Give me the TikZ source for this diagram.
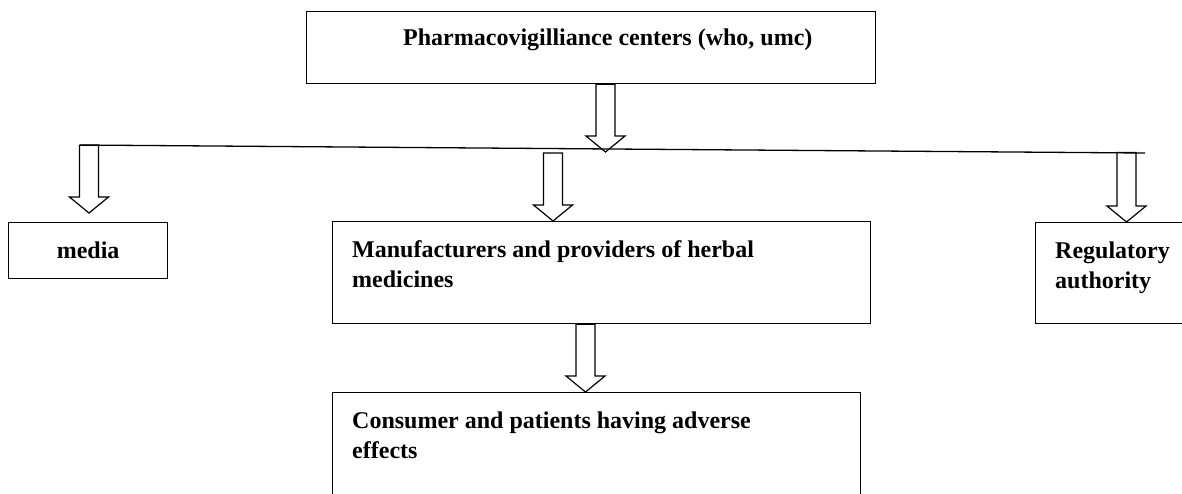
\documentclass[tikz,border=0pt]{standalone}
\usepackage{fontspec}
\setmainfont{Liberation Serif}
\usepackage{tikz}
\usetikzlibrary{calc}

% hollow block arrow, straight down from #1 to the tip #2
\newcommand{\hollowdown}[2]{%
  \draw[hollow] let \p1=(#1), \p2=(#2) in
    (\x1-9.5pt,\y1) -- (\x1-9.5pt,\y2+16pt) -- (\x1-19.5pt,\y2+16pt) -- (\x1,\y2)
    -- (\x1+19.5pt,\y2+16pt) -- (\x1+9.5pt,\y2+16pt) -- (\x1+9.5pt,\y1) -- cycle;}

\begin{document}
\begin{tikzpicture}[x=1pt, y=-1pt,
  box/.style={draw, line width=1.3pt, rectangle, inner sep=0pt, anchor=north west},
  txt/.style={font=\bfseries\fontsize{24}{30}\selectfont, align=left, inner sep=0pt},
  boxlabel/.style={txt, anchor=north west, xshift=20pt, yshift=-19.4pt},
  hollow/.style={draw, fill=white, line width=1.2pt, line join=miter}]
\clip (0,0) rectangle (1182,493);

\node(pv)[box, minimum width=569pt, minimum height=72pt,
  label={[txt, anchor=north west, xshift=97pt, yshift=-17.3pt]north west:{Pharmacovigilliance centers (who, umc)}}] at (306,11) {};

\node(media)[box, txt, minimum width=159pt, minimum height=56pt] at (8,222) {media};
\node(mfr)[box, minimum width=538pt, minimum height=102pt,
  label={[boxlabel]north west:{Manufacturers and providers of herbal\\medicines}}] at (332,221) {};
\node(reg)[box, minimum width=200pt, minimum height=101pt,
  label={[boxlabel]north west:{Regulatory\\authority}}] at (1035,222) {};
\node(cons)[box, minimum width=528pt, minimum height=150pt,
  label={[boxlabel]north west:{Consumer and patients having adverse\\effects}}] at (332,392) {};

% arrows
\coordinate (t0) at (605.5,152);
\coordinate (a1) at (89,145.3);
\coordinate (t1) at (89,213);
\coordinate (a2) at (553,153);
\coordinate (a3) at (1126.5,152.5);
\coordinate (a4) at (585.5,0);
\hollowdown{pv.south -| t0}{t0}
\hollowdown{a1}{t1}
\hollowdown{a2}{a2 |- mfr.north}
\hollowdown{a3}{a3 |- reg.north}
\hollowdown{a4 |- mfr.south}{a4 |- cons.north}

\coordinate (bar-l) at (80,145);
\coordinate (bar-r) at (1145,153);
\draw[line width=1.3pt] (bar-l) -- (bar-r);
\end{tikzpicture}
\end{document}
